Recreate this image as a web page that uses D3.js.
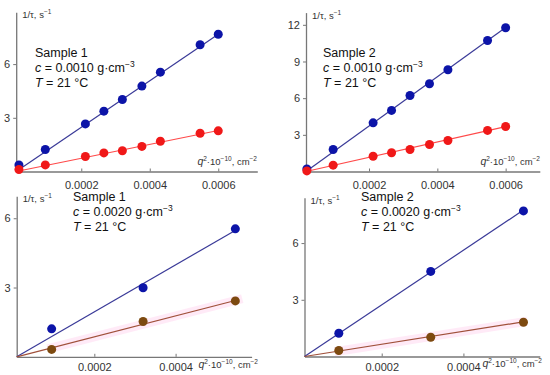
<!DOCTYPE html>
<html>
<head>
<meta charset="utf-8">
<script src="https://cdn.jsdelivr.net/npm/d3@7"></script>
<style>
  body { margin: 0; background: #fff; }
  svg { display: block; font-family: "Liberation Sans", Arial, sans-serif; }
  .tick text { fill: #333; font-size: 11px; }
  .axis path, .axis line { stroke: #777; }
  .note { fill: #111; font-size: 12.5px; }
  .unit { fill: #333; font-size: 9.5px; }
</style>
</head>
<body>
<svg id="chart" width="550" height="375"></svg>
<script>
// q^2 values (cm^-2, x 10^-10)
const q2Full = [0.000018, 0.000095, 0.000212, 0.000266, 0.00032, 0.000377, 0.000431, 0.000547, 0.0006];
const q2Three = [0.000095, 0.00032, 0.000547];

// 1/tau values, s^-1
const s1c10Fast = [0.37, 1.23, 2.66, 3.37, 4.02, 4.77, 5.55, 7.08, 7.67];
const s1c10Slow = [0.11, 0.37, 0.84, 1.04, 1.16, 1.40, 1.69, 2.14, 2.27];
const s2c10Fast = [0.2, 1.8, 3.98, 5.0, 6.22, 7.18, 8.32, 10.72, 11.76];
const s2c10Slow = [0.05, 0.52, 1.25, 1.53, 1.8, 2.21, 2.54, 3.36, 3.68];
const s1c20Fast = [1.21, 2.99, 5.54];
const s1c20Slow = [0.32, 1.53, 2.42];
const s2c20Fast = [1.23, 4.5, 7.7];
const s2c20Slow = [0.32, 1.02, 1.81];

// fitted slopes
const fastSlopes = [13000, 20170, 10180, 14450];
const slowSlopes = [3880, 6290, 4530, 3420];

const xTicks = [0.0002, 0.0004, 0.0006];
const samples = ['Sample 1', 'Sample 2', 'Sample 1', 'Sample 2'];
const concs = ['0.0010', '0.0010', '0.0020', '0.0020'];

const panels = [
  { q: q2Full, fast: s1c10Fast, slow: s1c10Slow, xd: [0.00001, 0.000714], xr: [16.2, 257.3], yd: [0, 8.9], yr: [171.5, 12.2], yt: [3, 6], fitEnd: 0.0006, slowCol: '#f01818', slowLine: '#ff4a4a', band: false, note: [35, 57], xlab: [257, 164.5] },
  { q: q2Full, fast: s2c10Fast, slow: s2c10Slow, xd: [0.0000155, 0.0007], xr: [306, 539.8], yd: [0, 13], yr: [171.5, 12.6], yt: [3, 6, 9, 12], fitEnd: 0.0006, slowCol: '#f01818', slowLine: '#ff4a4a', band: false, note: [323, 57], xlab: [540, 165] },
  { q: q2Three, fast: s1c20Fast, slow: s1c20Slow, xd: [0.000009, 0.000587], xr: [16.7, 251.6], yd: [0, 6.95], yr: [356.8, 196.3], yt: [3, 6], fitEnd: 0.000554, slowCol: '#7d4a10', slowLine: '#a0503a', band: true, note: [73, 201], xlab: [258, 367.5] },
  { q: q2Three, fast: s2c20Fast, slow: s2c20Slow, xd: [0.000011, 0.000587], xr: [304.5, 539.8], yd: [0, 8.4], yr: [356.5, 197.7], yt: [3, 6], fitEnd: 0.000546, slowCol: '#7d4a10', slowLine: '#a0503a', band: true, note: [361, 201], xlab: [542, 367] }
];

const svg = d3.select('#chart');

panels.forEach((p, i) => {
  const x = d3.scaleLinear().domain(p.xd).range(p.xr);
  const y = d3.scaleLinear().domain(p.yd).range(p.yr);
  const g = svg.append('g');

  // axes
  g.append('g')
    .attr('class', 'axis')
    .attr('transform', `translate(0,${p.yr[0]})`)
    .call(d3.axisBottom(x).tickValues(i < 2 ? xTicks : xTicks.slice(0, 2)).tickSizeInner(-3).tickSizeOuter(0).tickPadding(5).tickFormat(d3.format('.4f')))
    .call(a => a.select('.domain').attr('stroke-width', 1.3))
    .call(a => a.selectAll('.tick text').attr('dy', i < 2 ? '1.1em' : '0.85em'));

  g.append('g')
    .attr('class', 'axis')
    .attr('transform', `translate(${p.xr[0]},0)`)
    .call(d3.axisLeft(y).tickValues(p.yt).tickSize(3).tickPadding(3).tickSizeOuter(0).tickFormat(d3.format('d')))
    .call(a => a.select('.domain').attr('stroke-width', 1.3));

  // y unit label
  const yl = g.append('text').attr('class', 'unit')
    .attr('x', p.xr[0] + 6).attr('y', p.yr[1] + 6);
  yl.append('tspan').text('1/τ, s');
  yl.append('tspan').attr('dy', -4).attr('font-size', 6.5).text('−1');

  // x unit label
  const xl = g.append('text').attr('class', 'unit').attr('text-anchor', 'end')
    .attr('x', p.xlab[0]).attr('y', p.xlab[1]);
  xl.append('tspan').attr('font-style', 'italic').attr('font-size', 10.5).text('q');
  xl.append('tspan').attr('dy', -4).attr('font-size', 6.5).text('2');
  xl.append('tspan').attr('dy', 4).text('·10');
  xl.append('tspan').attr('dy', -4).attr('font-size', 6.5).text('−10');
  xl.append('tspan').attr('dy', 4).text(', cm');
  xl.append('tspan').attr('dy', -4).attr('font-size', 6.5).text('−2');

  // annotation
  const [nx, ny] = p.note;
  g.append('text').attr('class', 'note').attr('x', nx).attr('y', ny).text(samples[i]);
  const c = g.append('text').attr('class', 'note').attr('x', nx).attr('y', ny + 15);
  c.append('tspan').attr('font-style', 'italic').text('c');
  c.append('tspan').text(` = ${concs[i]} g·cm`);
  c.append('tspan').attr('dy', -5).attr('font-size', 8.5).text('−3');
  const t = g.append('text').attr('class', 'note').attr('x', nx).attr('y', ny + 29.5);
  t.append('tspan').attr('font-style', 'italic').text('T');
  t.append('tspan').text(' = 21 °C');

  const fitLine = slope => d3.line()
    .x(d => x(d))
    .y(d => y(slope * (d - p.xd[0])));
  const ends = [p.xd[0], p.fitEnd];

  if (p.band) {
    g.append('path').datum([p.q[0] - 0.00001, p.fitEnd + 0.00001])
      .attr('d', fitLine(slowSlopes[i]))
      .attr('fill', 'none').attr('stroke', '#ff70c8').attr('stroke-opacity', 0.15)
      .attr('stroke-width', 9);
  }

  g.append('path').datum(ends).attr('d', fitLine(fastSlopes[i]))
    .attr('fill', 'none').attr('stroke', '#3a3a98').attr('stroke-width', 1.2);
  g.append('path').datum(ends).attr('d', fitLine(slowSlopes[i]))
    .attr('fill', 'none').attr('stroke', p.slowLine).attr('stroke-width', 1.2);

  g.selectAll('.fast').data(p.q).join('circle')
    .attr('cx', d => x(d)).attr('cy', (d, k) => y(p.fast[k])).attr('r', 4.5)
    .attr('fill', '#0c14a8');
  g.selectAll('.slow').data(p.q).join('circle')
    .attr('cx', d => x(d)).attr('cy', (d, k) => y(p.slow[k])).attr('r', 4.5)
    .attr('fill', p.slowCol);
});
</script>
</body>
</html>
